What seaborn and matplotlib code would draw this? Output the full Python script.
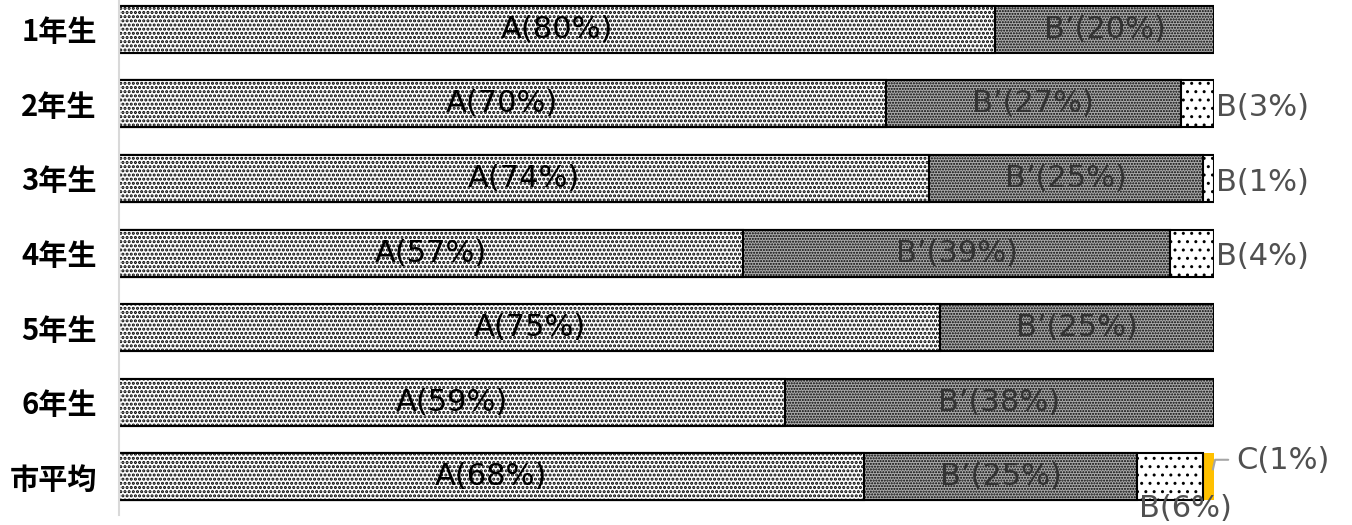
import numpy as np
import pandas as pd
import matplotlib
matplotlib.use('Agg')
import matplotlib.pyplot as plt
import seaborn as sns

# data (raw values; each row is shown as share of its total)
grades = ['1年生', '2年生', '3年生', '4年生', '5年生', '6年生', '市平均']
val_a = [80, 70, 74, 57, 75, 59, 68]
val_b2 = [20, 27, 25, 39, 25, 38, 25]
val_b = [0, 3, 1, 4, 0, 0, 6]
val_c = [0, 0, 0, 0, 0, 0, 1]

sns.set_theme(style='white')
plt.rcParams['font.family'] = ['DejaVu Sans', 'Noto Sans CJK JP']

df = pd.DataFrame({'grade': grades, 'A': val_a, 'B2': val_b2, 'B': val_b, 'C': val_c})
tot = df[['A', 'B2', 'B', 'C']].sum(axis=1)
for k in ['A', 'B2', 'B', 'C']:
    df[k + '_pct'] = df[k] / tot * 100
df['cum_a'] = df['A_pct']
df['cum_b2'] = df['cum_a'] + df['B2_pct']
df['cum_b'] = df['cum_b2'] + df['B_pct']
df['cum_c'] = df['cum_b'] + df['C_pct']

fig = plt.figure(figsize=(13.52, 5.25), dpi=100)
ax = fig.add_axes([119 / 1352, 10 / 525, 1095 / 1352, 515 / 525])

bw = 0.63
# draw from the outermost cumulative layer inwards
sns.barplot(data=df, x='cum_c', y='grade', orient='h', color='#FFC000', saturation=1,
            width=bw, linewidth=0, ax=ax)
with plt.rc_context({'hatch.linewidth': 1.0}):
    sns.barplot(data=df[df['B'] > 0], x='cum_b', y='grade', order=grades, orient='h', color='white',
                saturation=1, width=bw, edgecolor='black', linewidth=1.5, hatch='..', ax=ax)
with plt.rc_context({'hatch.linewidth': 1.0}):
    sns.barplot(data=df, x='cum_b2', y='grade', orient='h', color='#acacac', saturation=1,
                width=bw, edgecolor='black', linewidth=1.5, hatch='......', ax=ax)
with plt.rc_context({'hatch.linewidth': 1.5}):
    sns.barplot(data=df, x='cum_a', y='grade', orient='h', color='white', saturation=1,
                width=bw, edgecolor='black', linewidth=1.5, hatch='....', ax=ax)

ax.set_xlim(0, 100)
ax.set_ylim(6.51, -0.39)
ax.set_xlabel('')
ax.set_ylabel('')
ax.set_xticks([])
ax.tick_params(axis='y', length=0, pad=16)
for t in ax.get_yticklabels():
    t.set_fontsize(21)
    t.set_fontweight('bold')
    t.set_color('black')
    t.set_fontfamily(['Noto Sans CJK JP'])
for s in ['top', 'right', 'bottom']:
    ax.spines[s].set_visible(False)
ax.spines['left'].set_color('#d9d9d9')
ax.spines['left'].set_linewidth(1.5)

fs = 22
for i, r in df.iterrows():
    ax.text(r['cum_a'] / 2, i, f"A({r['A']}%)", ha='center', va='center',
            fontsize=fs, color='black')
    ax.text((r['cum_a'] + r['cum_b2']) / 2, i, f"B’({r['B2']}%)", ha='center', va='center',
            fontsize=fs, color='#333333')
    if r['B'] > 0 and r['C'] == 0:
        ax.text(r['cum_b'] + 0.2, i + 0.05, f"B({r['B']}%)", ha='left', va='center',
                fontsize=fs, color='#505050', clip_on=False)
    if r['C'] > 0:
        xb = (r['cum_b2'] + r['cum_b']) / 2
        ax.text(xb + 1.4, i + 0.42, f"B({r['B']}%)", ha='center', va='center',
                fontsize=fs, color='#505050', clip_on=False)
        ax.plot([r['cum_c'] - 0.1, r['cum_c'] + 0.1, r['cum_c'] + 1.3], [i - 0.1, i - 0.23, i - 0.23],
                color='#a6a6a6', lw=1.5, clip_on=False)
        ax.text(r['cum_c'] + 2.0, i - 0.22, f"C({r['C']}%)", ha='left', va='center',
                fontsize=fs, color='#505050', clip_on=False)

fig.savefig('out.png', dpi=100)
